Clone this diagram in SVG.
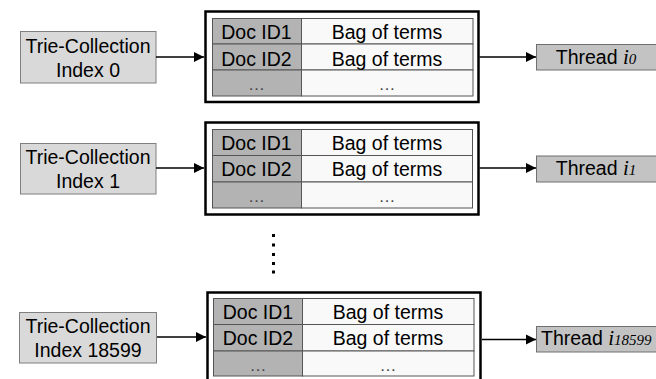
<svg xmlns="http://www.w3.org/2000/svg" width="656" height="379" viewBox="0 0 656 379">
<style>
text{font-family:"Liberation Sans",Arial,sans-serif;font-size:19.5px;fill:#000}
.mid{text-anchor:middle}
.src{fill:#d9d9d9;stroke:#7f7f7f;stroke-width:1}
.thr{fill:#c3c3c3;stroke:#6f6f6f;stroke-width:1}
.outer{fill:#fff;stroke:#000;stroke-width:2.5}
.doc{fill:#b3b3b3;stroke:#555;stroke-width:1}
.bag{fill:#f9f9f9;stroke:#555;stroke-width:1}
.conn{stroke:#000;stroke-width:1.5;fill:none;marker-end:url(#ah)}
.it{font-family:"Liberation Serif","Times New Roman",serif;font-style:italic;font-size:21px}
.sub{font-family:"Liberation Serif","Times New Roman",serif;font-style:italic;font-size:15px}
.dots{fill:#444;font-size:17px}
</style>
<defs>
<marker id="ah" markerUnits="userSpaceOnUse" markerWidth="12" markerHeight="12" refX="10" refY="6" orient="auto">
<path d="M0,1 L10,6 L0,11 Z" fill="#000"/>
</marker>
</defs>

<g id="src0">
<rect class="src" x="20.5" y="31.5" width="135.5" height="51.5"/>
<text class="mid" x="88" y="52.5">Trie-Collection</text>
<text class="mid" x="88" y="77">Index 0</text>
</g>
<g id="table0">
<rect class="outer" x="205.5" y="11.5" width="273" height="90.5"/>
<rect class="doc" x="212.5" y="18.5" width="89" height="25.5"/>
<rect class="bag" x="301.5" y="18.5" width="171.5" height="25.5"/>
<rect class="doc" x="212.5" y="44" width="89" height="26"/>
<rect class="bag" x="301.5" y="44" width="171.5" height="26"/>
<rect class="doc" x="212.5" y="70" width="89" height="26"/>
<rect class="bag" x="301.5" y="70" width="171.5" height="26"/>
<text class="mid" x="256.5" y="39">Doc ID1</text>
<text class="mid" x="387" y="39">Bag of terms</text>
<text class="mid" x="256.5" y="65.5">Doc ID2</text>
<text class="mid" x="387" y="65.5">Bag of terms</text>
<text class="mid dots" x="256.5" y="90">…</text>
<text class="mid dots" x="387" y="90">…</text>
</g>
<g id="thread0">
<rect class="thr" x="536.5" y="44.5" width="120" height="25.5"/>
<text class="mid" x="596" y="63.5">Thread <tspan class="it">i</tspan><tspan class="sub">0</tspan></text>
</g>

<g id="src1">
<rect class="src" x="20.5" y="143.5" width="135.5" height="50.5"/>
<text class="mid" x="88" y="163.5">Trie-Collection</text>
<text class="mid" x="88" y="188">Index 1</text>
</g>
<g id="table1">
<rect class="outer" x="205.5" y="122.5" width="273" height="92"/>
<rect class="doc" x="212.5" y="129.5" width="89" height="26"/>
<rect class="bag" x="301.5" y="129.5" width="171" height="26"/>
<rect class="doc" x="212.5" y="155.5" width="89" height="26.5"/>
<rect class="bag" x="301.5" y="155.5" width="171" height="26.5"/>
<rect class="doc" x="212.5" y="182" width="89" height="26"/>
<rect class="bag" x="301.5" y="182" width="171" height="26"/>
<text class="mid" x="256.5" y="149.5">Doc ID1</text>
<text class="mid" x="387" y="149.5">Bag of terms</text>
<text class="mid" x="256.5" y="175.5">Doc ID2</text>
<text class="mid" x="387" y="175.5">Bag of terms</text>
<text class="mid dots" x="256.5" y="202">…</text>
<text class="mid dots" x="387" y="202">…</text>
</g>
<g id="thread1">
<rect class="thr" x="536.5" y="156" width="120" height="26"/>
<text class="mid" x="596" y="175">Thread <tspan class="it">i</tspan><tspan class="sub">1</tspan></text>
</g>

<g id="ellipsis">
<rect x="272" y="234" width="3" height="3"/>
<rect x="272" y="243.5" width="3" height="3"/>
<rect x="272" y="253" width="3" height="3"/>
<rect x="272" y="262" width="3" height="3"/>
<rect x="272" y="270.5" width="3" height="3"/>
</g>

<g id="src2">
<rect class="src" x="19.5" y="312.5" width="137" height="50.5"/>
<text class="mid" x="88" y="332.5">Trie-Collection</text>
<text class="mid" x="88" y="357">Index 18599</text>
</g>
<g id="table2">
<rect class="outer" x="207.5" y="292.5" width="273" height="95"/>
<rect class="doc" x="213.5" y="298.5" width="89" height="26"/>
<rect class="bag" x="302.5" y="298.5" width="171.5" height="26"/>
<rect class="doc" x="213.5" y="324.5" width="89" height="26.5"/>
<rect class="bag" x="302.5" y="324.5" width="171.5" height="26.5"/>
<rect class="doc" x="213.5" y="351" width="89" height="25"/>
<rect class="bag" x="302.5" y="351" width="171.5" height="25"/>
<text class="mid" x="258" y="319">Doc ID1</text>
<text class="mid" x="388" y="319">Bag of terms</text>
<text class="mid" x="258" y="345">Doc ID2</text>
<text class="mid" x="388" y="345">Bag of terms</text>
<text class="mid dots" x="258" y="371">…</text>
<text class="mid dots" x="388" y="371">…</text>
</g>
<g id="thread2">
<rect class="thr" x="536.5" y="326.5" width="120" height="25.5"/>
<text x="541" y="345">Thread <tspan class="it">i</tspan><tspan class="sub">18599</tspan></text>
</g>

<g id="connectors">
<line class="conn" x1="156" y1="57" x2="204" y2="57"/>
<line class="conn" x1="479.5" y1="57" x2="536" y2="57"/>
<line class="conn" x1="156" y1="168" x2="204" y2="168"/>
<line class="conn" x1="479.5" y1="168" x2="536" y2="168"/>
<line class="conn" x1="157" y1="337" x2="206" y2="337"/>
<line class="conn" x1="482" y1="339.5" x2="536" y2="339.5"/>
</g>
</svg>
